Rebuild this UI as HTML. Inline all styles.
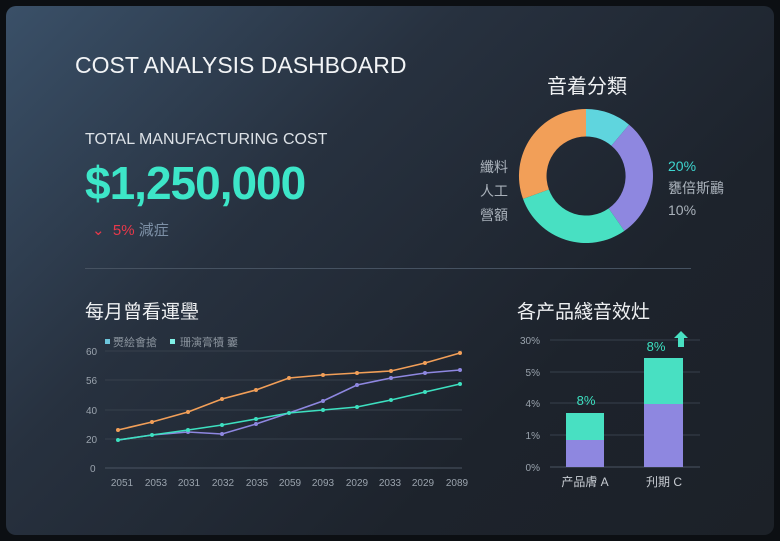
<!DOCTYPE html>
<html><head><meta charset="utf-8"><style>
body{margin:0;width:780px;height:541px;background:#0c0f13;overflow:hidden;font-family:"Liberation Sans","Noto Sans CJK SC",sans-serif}
.card{position:absolute;left:6px;top:6px;width:768px;height:529px;border-radius:10px;background:linear-gradient(135deg,#3a5068 0%,#27313f 35%,#1d232c 70%,#1c2128 100%)}
.t{position:absolute;white-space:nowrap}
</style></head><body>
<div class="card"></div>
<div class="t" style="left:75px;top:52px;font-size:23px;color:#f2f4f6;">COST ANALYSIS DASHBOARD</div>
<div class="t" style="left:85px;top:131px;font-size:16px;color:#dde2e7;">TOTAL MANUFACTURING COST</div>
<div class="t" style="left:85px;top:156px;font-size:46px;color:#3de6c8;font-weight:bold;letter-spacing:-1px">$1,250,000</div>
<div class="t" style="left:92px;top:219px;font-size:15px;color:#e8394a;">⌄ &nbsp;5% <span style="color:#7d90a6">減症</span></div>
<div class="t" style="left:547px;top:70px;font-size:20px;color:#eef0f2;">音着分類</div>
<div class="t" style="left:480px;top:155px;font-size:14px;color:#aab2bb;line-height:24px">纖料<br>人工<br>營額</div>
<div class="t" style="left:668px;top:155px;font-size:14px;color:#aab2bb;line-height:22px"><span style="color:#3ed6d0">20%</span><br>甕倍斯鸝<br>10%</div>
<div style="position:absolute;left:85px;top:268px;width:606px;height:1px;background:#465261"></div>
<div class="t" style="left:85px;top:297px;font-size:19px;color:#eef0f2;">每月曾看運璺</div>
<div class="t" style="left:517px;top:297px;font-size:19px;color:#eef0f2;">各产品綫音效灶</div>
<svg width="780" height="541" style="position:absolute;left:0;top:0" font-family="Liberation Sans, Noto Sans CJK SC, sans-serif">
<g transform="translate(586,176)">
<path d="M0,-67 A67,67 0 0 1 43.1,-51.3 L25.4,-30.3 A39.5,39.5 0 0 0 0,-39.5Z" fill="#5fd5de"/>
<path d="M43.1,-51.3 A67,67 0 0 1 38.4,54.9 L22.7,32.4 A39.5,39.5 0 0 0 25.4,-30.3Z" fill="#8e87e0"/>
<path d="M38.4,54.9 A67,67 0 0 1 -63,22.9 L-37.1,13.5 A39.5,39.5 0 0 0 22.7,32.4Z" fill="#48e0c2"/>
<path d="M-63,22.9 A67,67 0 0 1 0,-67 L0,-39.5 A39.5,39.5 0 0 0 -37.1,13.5Z" fill="#f29f58"/>
</g>
<g stroke="#37404c" stroke-width="1">
<line x1="105" y1="351" x2="462" y2="351"/><line x1="105" y1="380" x2="462" y2="380"/><line x1="105" y1="410" x2="462" y2="410"/><line x1="105" y1="439" x2="462" y2="439"/>
</g>
<line x1="105" y1="468" x2="462" y2="468" stroke="#4a5462"/>
<g fill="#9aa3ad" font-size="10">
<text x="86" y="355">60</text><text x="86" y="384">56</text><text x="86" y="414">40</text><text x="86" y="443">20</text><text x="90" y="472">0</text>
<g text-anchor="middle"><text x="122" y="486">2051</text><text x="156" y="486">2053</text><text x="189" y="486">2031</text><text x="223" y="486">2032</text><text x="257" y="486">2035</text><text x="290" y="486">2059</text><text x="323" y="486">2093</text><text x="357" y="486">2029</text><text x="390" y="486">2033</text><text x="423" y="486">2029</text><text x="457" y="486">2089</text></g>
</g>
<rect x="105" y="339" width="5" height="5" fill="#6cc5dc"/><text x="113" y="346" font-size="11" fill="#8a939d">燛絵會搶</text>
<rect x="170" y="339" width="5" height="5" fill="#7ff0e6"/><text x="180" y="346" font-size="11" fill="#8a939d">珊演膏犢 嫑</text>
<polyline fill="none" stroke="#f29f58" stroke-width="1.6" points="118,430 152,422 188,412 222,399 256,390 289,378 323,375 357,373 391,371 425,363 460,353"/>
<polyline fill="none" stroke="#8e87e0" stroke-width="1.6" points="118,440 152,435 188,432 222,434 256,424 289,413 323,401 357,385 391,378 425,373 460,370"/>
<polyline fill="none" stroke="#3de0c0" stroke-width="1.6" points="118,440 152,435 188,430 222,425 256,419 289,413 323,410 357,407 391,400 425,392 460,384"/>
<g fill="#f29f58"><circle cx="118" cy="430" r="2"/><circle cx="152" cy="422" r="2"/><circle cx="188" cy="412" r="2"/><circle cx="222" cy="399" r="2"/><circle cx="256" cy="390" r="2"/><circle cx="289" cy="378" r="2"/><circle cx="323" cy="375" r="2"/><circle cx="357" cy="373" r="2"/><circle cx="391" cy="371" r="2"/><circle cx="425" cy="363" r="2"/><circle cx="460" cy="353" r="2"/></g>
<g fill="#8e87e0"><circle cx="188" cy="432" r="2"/><circle cx="222" cy="434" r="2"/><circle cx="256" cy="424" r="2"/><circle cx="323" cy="401" r="2"/><circle cx="357" cy="385" r="2"/><circle cx="391" cy="378" r="2"/><circle cx="425" cy="373" r="2"/><circle cx="460" cy="370" r="2"/></g>
<g fill="#3de0c0"><circle cx="118" cy="440" r="2"/><circle cx="152" cy="435" r="2"/><circle cx="188" cy="430" r="2"/><circle cx="222" cy="425" r="2"/><circle cx="256" cy="419" r="2"/><circle cx="289" cy="413" r="2"/><circle cx="323" cy="410" r="2"/><circle cx="357" cy="407" r="2"/><circle cx="391" cy="400" r="2"/><circle cx="425" cy="392" r="2"/><circle cx="460" cy="384" r="2"/></g>
<g stroke="#37404c"><line x1="550" y1="340" x2="700" y2="340"/><line x1="550" y1="372" x2="700" y2="372"/><line x1="550" y1="403" x2="700" y2="403"/><line x1="550" y1="435" x2="700" y2="435"/></g>
<line x1="550" y1="467" x2="700" y2="467" stroke="#4a5462"/>
<g fill="#9aa3ad" font-size="10" text-anchor="end"><text x="540" y="344">30%</text><text x="540" y="376">5%</text><text x="540" y="407">4%</text><text x="540" y="439">1%</text><text x="540" y="471">0%</text></g>
<rect x="566" y="413" width="38" height="27" fill="#48e0c2"/><rect x="566" y="440" width="38" height="27" fill="#8e87e0"/>
<rect x="644" y="358" width="39" height="46" fill="#48e0c2"/><rect x="644" y="404" width="39" height="63" fill="#8e87e0"/>
<text x="586" y="405" font-size="13" fill="#3de0c0" text-anchor="middle">8%</text>
<text x="656" y="351" font-size="13" fill="#3de0c0" text-anchor="middle">8%</text>
<path d="M681,331 L688,338 L684,338 L684,347 L678,347 L678,338 L674,338Z" fill="#48e0c2"/>
<text x="585" y="486" font-size="12" fill="#c7ccd2" text-anchor="middle">产品膚 A</text>
<text x="664" y="486" font-size="12" fill="#c7ccd2" text-anchor="middle">刋期 C</text>
</svg>
</body></html>
